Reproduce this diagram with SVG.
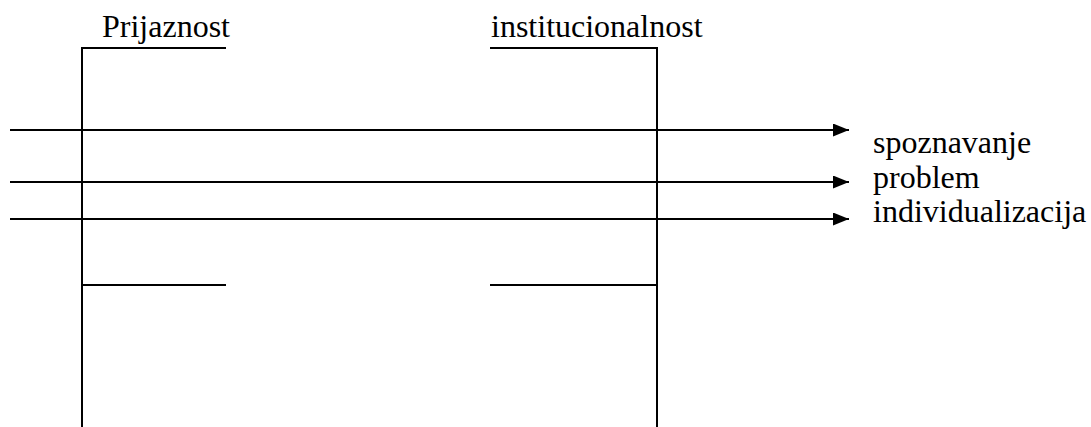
<svg xmlns="http://www.w3.org/2000/svg" width="1091" height="427" viewBox="0 0 1091 427">
<style>
.ln{stroke:#000;stroke-width:2;fill:none}
.t{font-family:"Liberation Serif","Times New Roman",serif;font-size:32px;fill:#000}
</style>
<defs>
<marker id="ah" markerUnits="userSpaceOnUse" markerWidth="16" markerHeight="13" refX="16" refY="6.5" orient="auto">
<path d="M0,0 L16,6.5 L0,13 Z" fill="#000"/>
</marker>
</defs>
<rect width="1091" height="427" fill="#fff"/>
<g id="prijaznost">
<path class="ln" d="M226,48 H82 V427"/>
<path class="ln" d="M82,285 H226"/>
<text class="t" x="102" y="37">Prijaznost</text>
</g>
<g id="institucionalnost">
<path class="ln" d="M490,48 H657 V427"/>
<path class="ln" d="M490,285 H657"/>
<text class="t" x="491" y="37">institucionalnost</text>
</g>
<g id="connectors">
<line class="ln" x1="10" y1="130" x2="849" y2="130" marker-end="url(#ah)"/>
<line class="ln" x1="10" y1="182" x2="849" y2="182" marker-end="url(#ah)"/>
<line class="ln" x1="10" y1="219" x2="849" y2="219" marker-end="url(#ah)"/>
</g>
<g id="labels">
<text class="t" x="873" y="153">spoznavanje</text>
<text class="t" x="873" y="188">problem</text>
<text class="t" x="873" y="222">individualizacija</text>
</g>
</svg>
